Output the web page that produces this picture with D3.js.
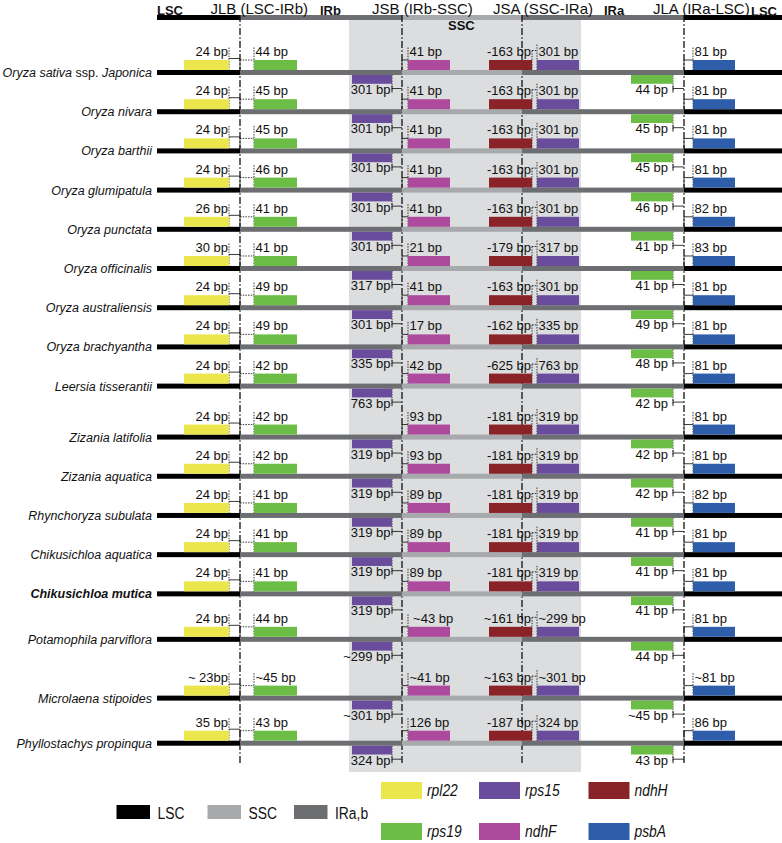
<!DOCTYPE html>
<html><head><meta charset="utf-8">
<script src="https://cdn.jsdelivr.net/npm/d3@7/dist/d3.min.js"></script>
<style>
body{margin:0;background:#fff}
svg{display:block}
text{font-family:"Liberation Sans",Arial,Helvetica,sans-serif;fill:#111}
</style></head><body>
<svg id="chart" width="782" height="843"></svg>
<script>
// ---------------- DATA ----------------
const species = ["Oryza sativa ssp. Japonica","Oryza nivara","Oryza barthii","Oryza glumipatula","Oryza punctata","Oryza officinalis","Oryza australiensis","Oryza brachyantha","Leersia tisserantii","Zizania latifolia","Zizania aquatica","Rhynchoryza subulata","Chikusichloa aquatica","Chikusichloa mutica","Potamophila parviflora","Microlaena stipoides","Phyllostachys propinqua"];
const highlighted = ["Chikusichloa mutica"];
const rpl22Labels   = ["24 bp","24 bp","24 bp","24 bp","26 bp","30 bp","24 bp","24 bp","24 bp","24 bp","24 bp","24 bp","24 bp","24 bp","24 bp","~ 23bp","35 bp"];
const rps19IRbLabels= ["44 bp","45 bp","45 bp","46 bp","41 bp","41 bp","49 bp","49 bp","42 bp","42 bp","42 bp","41 bp","41 bp","41 bp","44 bp","~45 bp","43 bp"];
const rps15IRbLabels= ["301 bp","301 bp","301 bp","301 bp","301 bp","317 bp","301 bp","335 bp","763 bp","319 bp","319 bp","319 bp","319 bp","319 bp","~299 bp","~301 bp","324 bp"];
const ndhFLabels    = ["41 bp","41 bp","41 bp","41 bp","41 bp","21 bp","41 bp","17 bp","42 bp","93 bp","93 bp","89 bp","89 bp","89 bp"," ~43 bp","~41 bp","126 bp"];
const ndhHLabels    = ["-163 bp","-163 bp","-163 bp","-163 bp","-163 bp","-179 bp","-163 bp","-162 bp","-625 bp","-181 bp","-181 bp","-181 bp","-181 bp","-181 bp","~161 bp","~163 bp","-187 bp"];
const rps15IRaLabels= ["301 bp","301 bp","301 bp","301 bp","301 bp","317 bp","301 bp","335 bp","763 bp","319 bp","319 bp","319 bp","319 bp","319 bp","~299 bp","~301 bp","324 bp"];
const rps19IRaLabels= ["44 bp","45 bp","45 bp","46 bp","41 bp","41 bp","49 bp","48 bp","42 bp","42 bp","42 bp","41 bp","41 bp","41 bp","44 bp","~45 bp","43 bp"];
const psbALabels    = ["81 bp","81 bp","81 bp","81 bp","82 bp","83 bp","81 bp","81 bp","81 bp","81 bp","81 bp","82 bp","81 bp","81 bp","81 bp","~81 bp","86 bp"];
const junctions = ["JLB","JSB","JSA","JLA"];
const junctionTitles = ["JLB (LSC-IRb)","JSB (IRb-SSC)","JSA (SSC-IRa)","JLA (IRa-LSC)"];
const regionNames = ["LSC","IRb","SSC","IRa","LSC"];
const legendGenes = ["rpl22","rps15","ndhH","rps19","ndhF","psbA"];
const legendRegions = ["LSC","SSC","IRa,b"];

// ---------------- LAYOUT / STYLE ----------------
const rowStep = [0,1,1,1,1,1,1,1,1,1.3,1,1,1,1,1.16,1.5,1.15];
const cum = []; rowStep.reduce((a,v,i)=>{cum[i]=a+v;return a+v;},0);
const y = d3.scaleLinear().domain([0, cum[cum.length-1]]).range([72.5, 743.2]);
const jx = d3.scaleOrdinal().domain(junctions).range([240,402,522,684]);
const colors = {rpl22:"#ebe64b",rps19:"#6cbd45",rps15:"#6a4c9c",ndhF:"#ad4a9d",ndhH:"#8a2328",psbA:"#2e5ea9",
  LSC:"#000000",SSC:"#a7a9ac",IR:"#6d6e71"};
const regionColor = {LSC:colors.LSC, IRb:colors.IR, SSC:colors.SSC, IRa:colors.IR};
const barStart = 157, barEnd = 782;
const segs = [[barStart, jx("JLB"),"LSC"],[jx("JLB"),jx("JSB"),"IRb"],[jx("JSB"),jx("JSA"),"SSC"],[jx("JSA"),jx("JLA"),"IRa"],[jx("JLA"),barEnd,"LSC"]];

const genes = [
  {gene:"rpl22", labels:rpl22Labels,   x0:184, x1:229, side:"top", anchor:"end",   lx:228},
  {gene:"rps19", labels:rps19IRbLabels,x0:254, x1:297, side:"top", anchor:"start", lx:255.5},
  {gene:"ndhF",  labels:ndhFLabels,    x0:408, x1:450, side:"top", anchor:"start", lx:409.5},
  {gene:"ndhH",  labels:ndhHLabels,    x0:489, x1:532, side:"top", anchor:"end",   lx:531},
  {gene:"rps15", labels:rps15IRaLabels,x0:537, x1:579, side:"top", anchor:"start", lx:538.5},
  {gene:"psbA",  labels:psbALabels,    x0:693, x1:735, side:"top", anchor:"start", lx:694.5},
  {gene:"rps15", labels:rps15IRbLabels,x0:352, x1:392, side:"bottom", anchor:"end", lx:390.5},
  {gene:"rps19", labels:rps19IRaLabels,x0:631, x1:673, side:"bottom", anchor:"end", lx:668}
];

const svg = d3.select("#chart");
const FONT = 13;

// shaded SSC region
svg.append("rect").attr("x",349).attr("y",20).attr("width",232).attr("height",752).attr("fill","#dcdddf");

// header bar
svg.append("g").selectAll("rect").data(segs).join("rect")
  .attr("x",d=>d[0]).attr("y",15).attr("width",d=>d[1]-d[0]).attr("height",5)
  .attr("fill",d=>regionColor[d[2]]);

// header texts
const hdr = svg.append("g");
hdr.selectAll("text.jt").data(junctionTitles).join("text").attr("class","jt")
  .attr("x",(d,i)=>[210.5,372,493,653][i]).attr("y",14).attr("font-size",15).text(d=>d);
const regionLabelPos = [[157,14.5],[320,14.5],[448,30],[604,14.5],[751,15.5]];
hdr.selectAll("text.rn").data(regionNames).join("text").attr("class","rn")
  .attr("x",(d,i)=>regionLabelPos[i][0]).attr("y",(d,i)=>regionLabelPos[i][1])
  .attr("font-size",13).attr("font-weight","bold").text(d=>d);

// main junction lines
svg.append("g").selectAll("line").data(junctions).join("line")
  .attr("x1",d=>jx(d)).attr("x2",d=>jx(d)).attr("y1",15).attr("y2",764)
  .attr("stroke","#111").attr("stroke-width",1.3).attr("stroke-dasharray","7,2.2,1.6,2.2");

// rows
const rows = svg.append("g").selectAll("g.row").data(species).join("g").attr("class","row")
  .attr("transform",(d,i)=>`translate(0,${y(cum[i])})`);

// species labels
rows.append("text").attr("x",152).attr("y",4.5).attr("text-anchor","end").attr("font-size",12.5)
  .attr("font-style","italic").attr("font-weight",d=>highlighted.includes(d)?"bold":"normal")
  .each(function(d){
    const t = d3.select(this);
    if (d.includes(" ssp. ")) {
      const [a,b] = d.split(" ssp. ");
      t.append("tspan").text(a+" ");
      t.append("tspan").attr("font-style","normal").text("ssp. ");
      t.append("tspan").text(b);
    } else t.text(d);
  });

// genome bars
rows.each(function(){
  d3.select(this).selectAll("rect.seg").data(segs).join("rect").attr("class","seg")
    .attr("x",d=>d[0]).attr("y",-2.5).attr("width",d=>d[1]-d[0]).attr("height",5)
    .attr("fill",d=>regionColor[d[2]]);
});

// connectors
const dot = {stroke:"#222","stroke-width":0.9,"stroke-dasharray":"1.5,1.2",fill:"none"};
const sol = {stroke:"#222","stroke-width":0.9,fill:"none"};
function ln(g,x1,y1,x2,y2,st){const l=g.append("line").attr("x1",x1).attr("y1",y1).attr("x2",x2).attr("y2",y2);Object.entries(st).forEach(([k,v])=>l.attr(k,v));}
rows.each(function(){
  const g = d3.select(this);
  const J1=jx("JLB"),J2=jx("JSB"),J3=jx("JSA"),J4=jx("JLA");
  ln(g,229,-25,229,-2.5,dot); ln(g,229,-14,J1,-14,sol); ln(g,J1,-14,J1,-2.5,sol);
  ln(g,J1,-12.5,254,-12.5,dot); ln(g,254,-25,254,-2.5,dot);
  ln(g,392,2.5,392,20,dot); ln(g,392,16,J2,16,sol); ln(g,392,13,392,19,sol);
  ln(g,J2,-12.5,408,-12.5,sol); ln(g,J2,-12.5,J2,-2.5,sol); ln(g,408,-25,408,-2.5,dot);
  ln(g,532,-22,532,-2.5,dot); ln(g,532,-22,537,-22,dot); ln(g,537,-28,537,-2.5,dot);
  ln(g,673,2.5,673,20,dot); ln(g,673,16,J4,16,sol); ln(g,673,13,673,19,sol);
  ln(g,J4,-12.5,693,-12.5,sol); ln(g,J4,-12.5,J4,-2.5,sol); ln(g,693,-25,693,-2.5,dot);
});

// gene boxes & labels
genes.forEach(s=>{
  rows.append("rect").attr("x",s.x0).attr("width",s.x1-s.x0)
    .attr("y",s.side==="top"?-12.5:2.5).attr("height",s.side==="top"?10:8.8)
    .attr("fill",colors[s.gene]);
  rows.append("text").attr("x",s.lx).attr("y",s.side==="top"?-16.5:21.5)
    .attr("text-anchor",s.anchor).attr("font-size",FONT).style("white-space","pre")
    .text((d,i)=>s.labels[i]);
});

// legend (condensed text via horizontal scale)
const lg = svg.append("g");
const gx = [381,479,588.5], gy=[782,823];
const SX = 0.84;
lg.selectAll("rect.lg").data(legendGenes).join("rect").attr("class","lg")
  .attr("x",(d,i)=>gx[i%3]).attr("y",(d,i)=>gy[Math.floor(i/3)]).attr("width",41).attr("height",17)
  .attr("fill",d=>colors[d]);
lg.selectAll("text.lg").data(legendGenes).join("text").attr("class","lg")
  .attr("transform",(d,i)=>`translate(${gx[i%3]+46},${gy[Math.floor(i/3)]+14}) scale(${SX},1)`)
  .attr("font-size",16.5).attr("font-style","italic").text(d=>d);
const rx=[116.5,207.5,294];
const regionLegendColor = {"LSC":colors.LSC,"SSC":colors.SSC,"IRa,b":colors.IR};
lg.selectAll("rect.rg").data(legendRegions).join("rect").attr("class","rg")
  .attr("x",(d,i)=>rx[i]).attr("y",805).attr("width",33.5).attr("height",14)
  .attr("fill",d=>regionLegendColor[d]);
lg.selectAll("text.rg").data(legendRegions).join("text").attr("class","rg")
  .attr("transform",(d,i)=>`translate(${rx[i]+41},818.5) scale(${SX},1)`)
  .attr("font-size",16.5).text(d=>d);
</script>
</body></html>
